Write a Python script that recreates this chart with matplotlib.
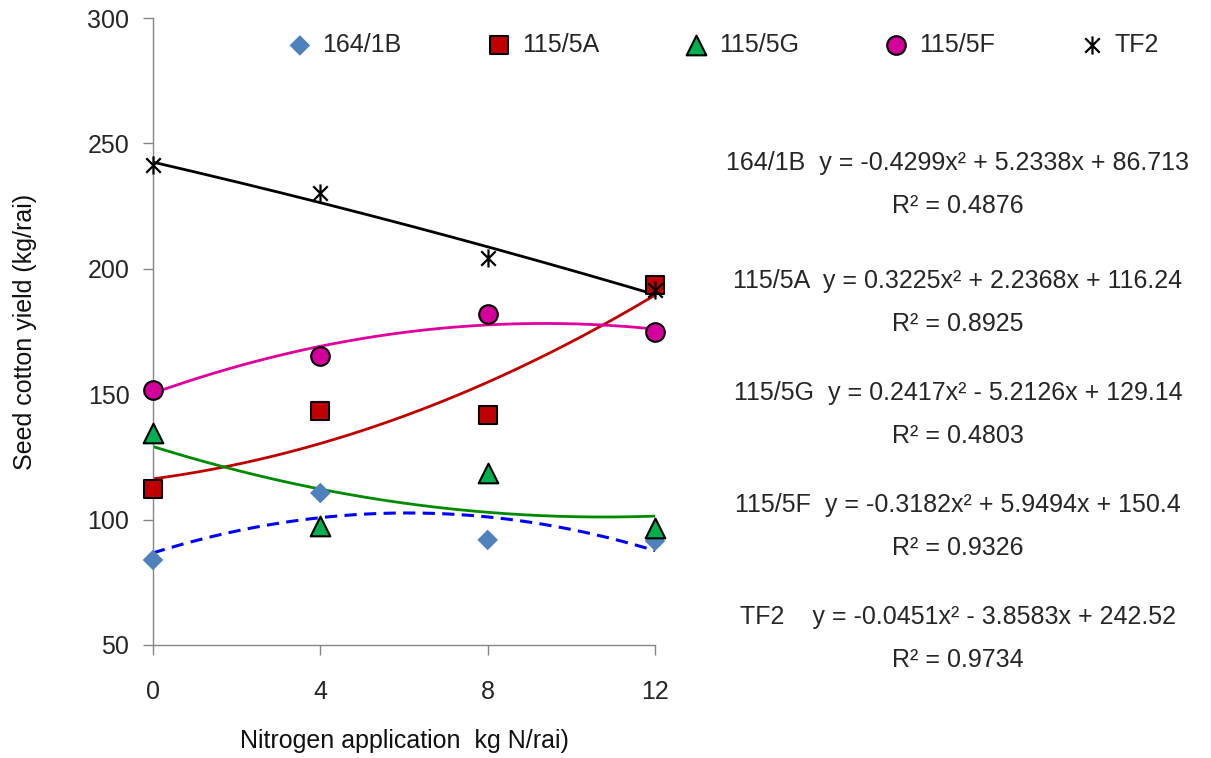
import numpy as np
import matplotlib.pyplot as plt
from matplotlib.path import Path

plt.rcParams['font.family'] = ['Liberation Sans', 'DejaVu Sans']

# nitrogen rates (kg N/rai)
nitrogen = [0, 4, 8, 12]

lines = ['164/1B', '115/5A', '115/5G', '115/5F', 'TF2']

# seed cotton yield (kg/rai)
yield_164_1b = [83.9, 110.6, 91.9, 91.5]
yield_115_5a = [112.4, 143.3, 141.7, 193.5]
yield_115_5g = [134.5, 97.4, 118.6, 96.6]
yield_115_5f = [151.7, 165.2, 182.0, 174.8]
yield_tf2 = [241.4, 230.2, 204.3, 191.5]

# quadratic trendlines a*x^2 + b*x + c
coef_164_1b = [-0.4299, 5.2338, 86.713]
coef_115_5a = [0.3225, 2.2368, 116.24]
coef_115_5g = [0.2417, -5.2126, 129.14]
coef_115_5f = [-0.3182, 5.9494, 150.4]
coef_tf2 = [-0.0451, -3.8583, 242.52]

r2 = [0.4876, 0.8925, 0.4803, 0.9326, 0.9734]

# excel style star: X with a vertical bar
star = Path([(-1, -1), (1, 1), (-1, 1), (1, -1), (0, -1.25), (0, 1.25)],
            [Path.MOVETO, Path.LINETO, Path.MOVETO, Path.LINETO, Path.MOVETO, Path.LINETO])

styles = [
    dict(marker='D', s=110, color='#4F81BD', edgecolors='none'),
    dict(marker='s', s=160, color='#C00000', edgecolors='black', linewidths=1.5),
    dict(marker='^', s=200, color='#00B050', edgecolors='black', linewidths=1.5),
    dict(marker='o', s=180, color='#D4009B', edgecolors='black', linewidths=1.5),
    dict(marker=star, s=170, color='black', linewidths=1.6),
]
trend_style = [
    dict(color='#0000FF', ls=(0, (4, 2.4)), lw=2.2),
    dict(color='#C00000', ls='-', lw=2.0),
    dict(color='#008A00', ls='-', lw=2.0),
    dict(color='#E0009E', ls='-', lw=2.0),
    dict(color='black', ls='-', lw=2.0),
]

yields = [yield_164_1b, yield_115_5a, yield_115_5g, yield_115_5f, yield_tf2]
coefs = [coef_164_1b, coef_115_5a, coef_115_5g, coef_115_5f, coef_tf2]

fig = plt.figure(figsize=(12.11, 7.58), dpi=100)
ax = fig.add_axes([153 / 1211, 1 - 645 / 758, 502 / 1211, 627 / 758])

xs = np.linspace(0, 12, 200)
for c, st in zip(coefs, trend_style):
    ax.plot(xs, np.polyval(c, xs), solid_capstyle='butt', zorder=2, **st)

handles = []
for name, y, st in zip(lines, yields, styles):
    h = ax.scatter(nitrogen, y, label=name, clip_on=False, zorder=3, **st)
    handles.append(h)

ax.set_xlim(0, 12)
ax.set_ylim(50, 300)
ax.set_xticks(nitrogen)
ax.set_yticks(range(50, 301, 50))
for s in ['top', 'right']:
    ax.spines[s].set_visible(False)
for s in ['left', 'bottom']:
    ax.spines[s].set_color('#868686')
    ax.spines[s].set_linewidth(1.0)
ax.tick_params(length=7, width=1.0, color='#868686', labelsize=18,
               labelcolor='#262626', pad=10)
ax.tick_params(axis='x', pad=18)

ax.set_xlabel('Nitrogen application  kg N/rai)', fontsize=18, labelpad=18, color='#111111')
ax.set_ylabel('Seed cotton yield (kg/rai)', fontsize=18, labelpad=36, color='#111111')

fig.legend(handles=handles, loc='center', bbox_to_anchor=(722 / 1211, 1 - 45 / 758),
           ncol=5, frameon=False, fontsize=18, columnspacing=3.3, handletextpad=0.3,
           handlelength=1.2, labelcolor='#262626')

# trendline equations
eq_y = [163, 281, 393, 505, 617]
for name, c, r, y in zip(lines, coefs, r2, eq_y):
    a, b, k = c
    sb = '+' if b >= 0 else '-'
    pad = '    ' if name == 'TF2' else '  '
    eq = f'{name}{pad}y = {a:.4f}x² {sb} {abs(b):.4f}x + {k:g}'
    fig.text(958 / 1211, 1 - y / 758, eq, ha='center', va='center', fontsize=18, color='#262626')
    fig.text(958 / 1211, 1 - (y + 43) / 758, f'R² = {r:.4f}', ha='center', va='center',
             fontsize=18, color='#262626')

fig.savefig('out.png', dpi=100)
